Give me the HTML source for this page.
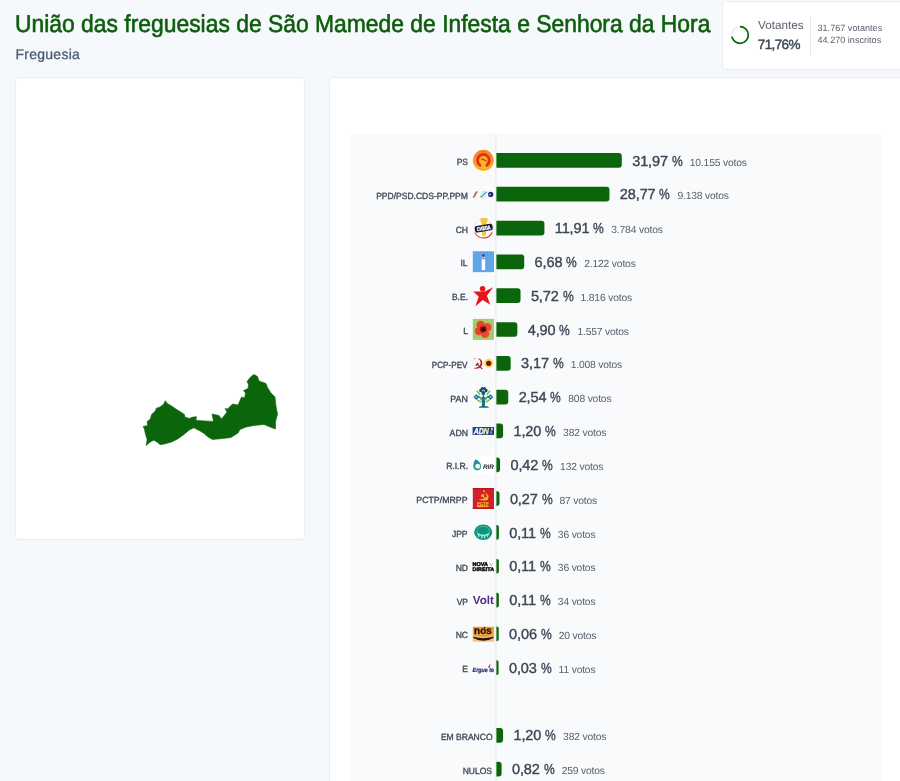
<!DOCTYPE html>
<html><head><meta charset="utf-8"><title>Resultados</title>
<style>
*{margin:0;padding:0;box-sizing:border-box}
html,body{width:900px;height:781px;overflow:hidden;background:#f6f9fc;font-family:"Liberation Sans",sans-serif;text-rendering:geometricPrecision}
body{position:relative}
h1{position:absolute;left:14.500px;top:10.800px;font-size:24.400px;font-weight:normal;color:#0d5d0d;white-space:nowrap;line-height:28px;-webkit-text-stroke:.6px #0d5d0d;transform:scaleX(.9376);transform-origin:0 0}
.sub{position:absolute;left:15.500px;top:44.500px;font-size:14px;color:#4c5a75;line-height:18px;letter-spacing:.26px;-webkit-text-stroke:.3px #4c5a75}
.card{position:absolute;background:#fff;border-radius:3px;box-shadow:0 0 0 1px #e9eef3,0 1px 2px rgba(30,50,90,.05)}
#c1{left:16px;top:78px;width:288px;height:461px}
#c2{left:330px;top:78px;width:600px;height:760px}
#c3{left:723px;top:2px;width:200px;height:67px}
#panel{position:absolute;left:350px;top:133.500px;width:531.500px;height:700px;background:#f9fafc}
#axis{position:absolute;left:495.500px;top:133.500px;width:1px;height:700px;background:#e3e7eb}
.lab{position:absolute;font-size:9px;color:#414957;line-height:16px;white-space:nowrap;transform:scaleX(.947);transform-origin:100% 50%;-webkit-text-stroke:.34px #414957}
.ic{position:absolute;left:472.800px;width:21.200px;height:21.200px;display:block}
.ic svg{display:block;overflow:visible}
.bar{position:absolute;left:496.500px;height:14.700px;background:#0b660b;border-radius:0 3px 3px 0}
.val{position:absolute;white-space:nowrap;line-height:20px;color:#3c4656}
.val b{font-size:14.500px;letter-spacing:-.12px;font-weight:normal;-webkit-text-stroke:.38px #3c4656}
.val s{text-decoration:none;display:inline-block;transform:scaleX(.83);transform-origin:0 50%;margin-right:-2.100px}
.val i{font-style:normal;font-size:10.300px;letter-spacing:-.17px;color:#59616d;margin-left:7.300px}
#map{position:absolute;left:0;top:0}
.vt{position:absolute;left:758px;top:18.800px;font-size:11.700px;color:#59616d;line-height:14px}
.vp{position:absolute;left:757.800px;top:35.500px;font-size:13.500px;color:#3c4656;line-height:18px;letter-spacing:-.62px;-webkit-text-stroke:.45px #3c4656}
.vs{position:absolute;left:817.500px;top:21.900px;font-size:9.100px;color:#59616d;line-height:12.200px;white-space:nowrap}
.vd{position:absolute;left:810px;top:15.500px;width:1px;height:39px;background:#e3e7ec}
#wrap{position:absolute;left:0;top:0;width:900px;height:781px;will-change:transform}
</style></head><body><div id="wrap">
<h1>União das freguesias de São Mamede de Infesta e Senhora da Hora</h1>
<div class="sub">Freguesia</div>
<div class="card" id="c1"></div>
<div class="card" id="c2"></div>
<div class="card" id="c3"></div>
<svg id="ring" style="position:absolute;left:730px;top:24.700px" width="20" height="20" viewBox="0 0 20 20"><circle cx="10" cy="10" r="8.300" fill="none" stroke="#e9edf1" stroke-width="1.500"/><path d="M10 1.700 A8.300 8.300 0 1 1 1.870 11.680" fill="none" stroke="#0b660b" stroke-width="1.700"/></svg>
<div class="vt">Votantes</div><div class="vp">71,76%</div><div class="vd"></div>
<div class="vs">31.767 votantes<br>44.270 inscritos</div>
<svg id="map" width="900" height="781" viewBox="0 0 900 781"><path fill="#0b660b" stroke="#0b660b" stroke-width=".6" stroke-linejoin="round" d="M165.3 400.7 L167.1 403.3 L171.6 406 L176 409.1 L180.4 411.8 L184.4 414.4 L184.9 417.1 L189.3 418.4 L192.9 417.1 L196.4 416.7 L196 420.2 L204 420.9 L213.5 421.4 L212 414 L219 415.5 L221.5 419 L227 412 L225 408.5 L227.5 409 L232.5 404 L238 405 L241.5 397 L244.5 398 L245.5 393 L243.5 390.5 L248 388.5 L248.5 384.5 L247 381.5 L251 376.5 L254 374.5 L257.5 376.5 L259 381 L266 383.5 L267.5 387.5 L271 393 L275 397 L276 406 L277.5 414 L275.5 422 L275.5 429 L270 427 L264 424.5 L254 425.5 L246 427 L240 429.5 L238 433 L231 437.5 L223 438.5 L212.5 439.5 L208 437 L204 433.5 L200 430.9 L193.8 427.8 L189.3 430 L184 434.4 L177.8 438.9 L171.6 442 L165.3 443.8 L160 444.7 L157.8 442.4 L153.8 440.2 L150.2 442 L146.2 445.6 L147.1 439.8 L145.3 433.6 L144.4 429.1 L143.1 426.4 L147.6 425.6 L147.1 421.6 L150.2 419.3 L151.6 414.4 L155.1 411.3 L156.4 408.2 L160 406.9 L163.6 404.2 Z"/></svg>
<svg style="position:absolute;left:0;top:0" width="900" height="781" viewBox="0 0 900 781"><rect x="351" y="133.500" width="530.500" height="660" fill="#f9fafb"/><rect x="495.400" y="133.500" width="1" height="660" fill="#e4e8ec"/><g fill="#0b660b"><path d="M496.4 153.05 H618.79 A3.00 3.00 0 0 1 621.79 156.05 V164.75 A3.00 3.00 0 0 1 618.79 167.75 H496.4 Z"/><path d="M496.4 186.87 H606.44 A3.00 3.00 0 0 1 609.44 189.87 V198.57 A3.00 3.00 0 0 1 606.44 201.57 H496.4 Z"/><path d="M496.4 220.69 H541.40 A3.00 3.00 0 0 1 544.40 223.69 V232.39 A3.00 3.00 0 0 1 541.40 235.39 H496.4 Z"/><path d="M496.4 254.51 H521.22 A3.00 3.00 0 0 1 524.22 257.51 V266.21 A3.00 3.00 0 0 1 521.22 269.21 H496.4 Z"/><path d="M496.4 288.33 H517.52 A3.00 3.00 0 0 1 520.52 291.33 V300.03 A3.00 3.00 0 0 1 517.52 303.03 H496.4 Z"/><path d="M496.4 322.15 H514.35 A3.00 3.00 0 0 1 517.35 325.15 V333.85 A3.00 3.00 0 0 1 514.35 336.85 H496.4 Z"/><path d="M496.4 355.97 H507.68 A3.00 3.00 0 0 1 510.68 358.97 V367.67 A3.00 3.00 0 0 1 507.68 370.67 H496.4 Z"/><path d="M496.4 389.79 H505.25 A3.00 3.00 0 0 1 508.25 392.79 V401.49 A3.00 3.00 0 0 1 505.25 404.49 H496.4 Z"/><path d="M496.4 423.61 H500.08 A3.00 3.00 0 0 1 503.08 426.61 V435.31 A3.00 3.00 0 0 1 500.08 438.31 H496.4 Z"/><path d="M496.4 457.43 H497.13 A2.94 2.94 0 0 1 500.07 460.37 V469.19 A2.94 2.94 0 0 1 497.13 472.13 H496.4 Z"/><path d="M496.4 491.25 H497.02 A2.47 2.47 0 0 1 499.49 493.72 V503.48 A2.47 2.47 0 0 1 497.02 505.95 H496.4 Z"/><path d="M496.4 525.07 H496.89 A1.98 1.98 0 0 1 498.87 527.05 V537.79 A1.98 1.98 0 0 1 496.89 539.77 H496.4 Z"/><path d="M496.4 558.89 H496.89 A1.98 1.98 0 0 1 498.87 560.87 V571.61 A1.98 1.98 0 0 1 496.89 573.59 H496.4 Z"/><path d="M496.4 592.71 H496.89 A1.98 1.98 0 0 1 498.87 594.69 V605.43 A1.98 1.98 0 0 1 496.89 607.41 H496.4 Z"/><path d="M496.4 626.53 H496.86 A1.83 1.83 0 0 1 498.68 628.36 V639.40 A1.83 1.83 0 0 1 496.86 641.23 H496.4 Z"/><path d="M496.4 660.35 H496.83 A1.73 1.73 0 0 1 498.57 662.08 V673.32 A1.73 1.73 0 0 1 496.83 675.05 H496.4 Z"/><path d="M496.4 727.99 H500.08 A3.00 3.00 0 0 1 503.08 730.99 V739.69 A3.00 3.00 0 0 1 500.08 742.69 H496.4 Z"/><path d="M496.4 761.81 H498.61 A3.00 3.00 0 0 1 501.61 764.81 V773.51 A3.00 3.00 0 0 1 498.61 776.51 H496.4 Z"/></g><g transform="translate(472.8 149.80)"><defs><linearGradient id="gps" x1="0" y1="0" x2="0" y2="1"><stop offset="0" stop-color="#f58a2a"/><stop offset=".55" stop-color="#f8ae28"/><stop offset="1" stop-color="#f9c924"/></linearGradient></defs><circle cx="10.6" cy="10.6" r="10.6" fill="url(#gps)"/><circle cx="10.6" cy="10.6" r="9.1" fill="none" stroke="#e2551a" stroke-width="1" stroke-dasharray=".9 1.2" opacity=".9"/><path d="M7.2 15.5 A6 6 0 1 1 14 15.5" fill="none" stroke="#e4300f" stroke-width="3" stroke-linecap="round"/><path d="M7.6 8.4 Q8 6.9 9.6 7 Q10.6 6.4 11.6 7 Q13.2 6.9 13.9 8.6 Q14.4 10.4 13.6 12 Q12.6 13.3 12.6 15 L12.9 19 L8.4 19 L8.7 15 Q8.5 13.5 7.7 12.3 Q7.1 10.2 7.600 8.400Z" fill="#f9b52c"/><path d="M8.6 9.1 Q11 9.6 13.6 11.300" fill="none" stroke="#d8350f" stroke-width="1.1" stroke-linecap="round"/></g><g transform="translate(472.8 183.62)"><path d="M.5 13.9 L2.600 11 L2.200 10.6 L4.4 7.8" stroke="#9a4a3a" stroke-width="1.5" fill="none" opacity=".85"/><path d="M8.6 7.4 L14.6 7.4 L13.2 14.2 L7.2 14.200Z" fill="#d3f0fa"/><path d="M8 13.6 L13.600 8.400" stroke="#2a86ae" stroke-width="1.5" stroke-dasharray="1.5 .7"/><circle cx="17.9" cy="10.8" r="2.6" fill="#1d2878"/><circle cx="17.2" cy="10.9" r="1.1" fill="#8c93d4"/></g><g transform="translate(472.8 217.44)"><circle cx="10.700" cy="11.200" r="9.400" fill="#fff" stroke="#f0c8c2" stroke-width=".6"/><path d="M2.200 15.200 A9.400 9.400 0 0 0 19.400 14.800" fill="none" stroke="#c4472f" stroke-width="1.100"/><path d="M7.400 1 Q11 -.3 15.100 1.100 L14.300 4.500 Q13.200 6 13.600 8 L13.300 13 Q13.600 16 12.600 18.600 L9.700 18.700 Q8.700 16 9.100 13 L8.900 8 Q9.200 5.500 7.900 4z" fill="#f2c83c"/><g transform="rotate(-10 10.900 10.700)"><rect x="2" y="7.400" width="17.900" height="6.600" rx="2.200" fill="#19163a"/><text x="10.900" y="12.700" font-size="5.400" font-weight="bold" fill="#fff" text-anchor="middle" font-family="Liberation Sans" textLength="13.800" lengthAdjust="spacingAndGlyphs" stroke="#fff" stroke-width=".35">CHEGA</text></g></g><g transform="translate(472.8 251.26)"><rect x="0" y="0" width="21.200" height="20.900" fill="#5ea6ea"/><rect x="8.900" y="8" width="3.500" height="10.800" fill="#fff"/><circle cx="10.600" cy="5" r="1.700" fill="#f6dfe6"/><circle cx="10.600" cy="4.400" r="1.400" fill="#5a2436"/></g><g transform="translate(472.8 285.08)"><circle cx="9.800" cy="3.650" r="2.800" fill="#ea1418"/><path d="M7.100 6.300 L.4 6.300 L5.900 11.400 L2.600 21.200 L10 15 L17.400 19.700 L14.100 10.700 L20.300 2.200 L12.100 6.500 Z" fill="#ea1418"/></g><g transform="translate(472.8 318.90)"><rect x="0" y="0" width="21.200" height="21" fill="#a5cb6c"/><circle cx="7.900" cy="6" r="4.200" fill="#e8442e"/><circle cx="14.500" cy="8.300" r="4.200" fill="#ea4a32"/><circle cx="6.200" cy="12.200" r="4.200" fill="#e8402c"/><circle cx="12.200" cy="14.900" r="4.200" fill="#ec4a36"/><circle cx="10.400" cy="10.400" r="3.500" fill="#b81a18"/><path d="M8.300 8 L10.500 8.800 L12.600 7.800 L12.300 10.300 L13 12.200 L10.800 12.100 L9.600 13.800 L9 11.600 L7.300 10.400 L8.800 9.700z" fill="#3d0606"/></g><g transform="translate(472.8 352.72)"><circle cx="5" cy="10.800" r="5.300" fill="none" stroke="#f4d8da" stroke-width=".4"/><path d="M5.200 5.500 Q9.600 6.500 9.500 10.800 Q9.200 14.600 5.800 15.600 Q3 16.300 .4 15.400 Q6 15.200 7.600 11.500 Q8.400 8.200 5.200 5.500Z" fill="#b3202c"/><path d="M2.500 12.300 L4.800 9.700 L6.200 11 L5.400 11.800 L9.900 15.900 L9.200 16.700 L4.700 12.500 L3.900 13.400Z" fill="#b3202c"/><circle cx="1.900" cy="5.900" r=".6" fill="#d0505a"/><circle cx="16" cy="10.600" r="5" fill="#fbe88a" opacity=".7"/><circle cx="16" cy="10.600" r="4.200" fill="#f7dc4a"/><circle cx="15.900" cy="10.600" r="2.600" fill="#760c0c"/></g><g transform="translate(472.8 386.54)"><path d="M9.100 10.400 L12.100 10.400 L12.100 19.500 Q14 19.700 16 20.500 L16 21.100 L6.200 21.100 L6.200 20.500 Q8 19.700 9.100 19.500Z" fill="#146b86"/><path d="M10.600 13 L5.200 9.700 M10.600 13 L16 9.700 M10.600 11 L10.600 6" stroke="#1f7f96" stroke-width="1.500" fill="none"/><path d="M4.400 4.800 L6.900 7.700 M16.800 4.800 L14.300 7.700 M4.800 13.600 L7.800 15.300 M16.400 13.600 L13.400 15.300 M7.300 11.400 L8.600 13.200 M13.900 11.400 L12.600 13.200" stroke="#7cc142" stroke-width="1.600" stroke-linecap="round"/><circle cx="8.100" cy="3.900" r="1.700" fill="#0e4f62"/><circle cx="13.100" cy="3.900" r="1.700" fill="#0e4f62"/><circle cx="9.500" cy="1.900" r="1.500" fill="#0e4f62"/><circle cx="11.700" cy="1.900" r="1.500" fill="#0e4f62"/><ellipse cx="10.600" cy="6" rx="2" ry="2.500" fill="#125a78"/><circle cx="9.800" cy="4.100" r=".65" fill="#bfeef5"/><circle cx="11.500" cy="4.100" r=".65" fill="#bfeef5"/><path d="M3.500 7.600 L6.300 10.500 L3.500 13.400 L.7 10.500Z M17.700 7.600 L20.500 10.500 L17.700 13.400 L14.900 10.500Z" fill="#1a6a8c"/><circle cx="3.400" cy="10.500" r="1" fill="#7fd0e6"/><circle cx="17.800" cy="10.500" r="1" fill="#7fd0e6"/></g><g transform="translate(472.8 420.36)"><rect x="-.2" y="6.700" width="21.400" height="7.900" fill="#1e3c84"/><text x=".9" y="13.800" font-size="8.600" font-weight="bold" font-style="italic" fill="#fff" stroke="#fff" stroke-width=".3" font-family="Liberation Sans" textLength="10.200" lengthAdjust="spacingAndGlyphs">AD</text><text x="10.800" y="13.800" font-size="8.600" font-weight="bold" font-style="italic" fill="#f2f2a0" stroke="#f2f2a0" stroke-width=".3" font-family="Liberation Sans" textLength="5.300" lengthAdjust="spacingAndGlyphs">N</text><rect x="18.300" y="7.500" width="1.500" height="2.600" fill="#e6ecff"/><rect x="17.600" y="10.900" width="1.500" height="2.700" fill="#6f9ae0"/></g><g transform="translate(472.8 454.18)"><rect x="-.5" y="1" width="22" height="19" fill="#fff"/><path d="M2.500 5 Q7.900 7.400 8.400 11.800 Q8.300 16 4.400 16 Q.5 15.800 .4 11.500 Q.5 8 2.500 5Z" fill="#1f909a"/><circle cx="4.900" cy="12.100" r="2.500" fill="#e4fafa"/><text x="10.100" y="14.700" font-size="6.600" font-weight="bold" font-style="italic" fill="#2a2a2a" font-family="Liberation Sans" textLength="11" lengthAdjust="spacingAndGlyphs">RIR</text></g><g transform="translate(472.8 488.00)"><rect x="0" y="0" width="21.200" height="21" fill="#d0202c"/><rect x="0" y="0" width="21.200" height="1.300" fill="#b8141e"/><rect x="0" y="19.700" width="21.200" height="1.300" fill="#b8141e"/><circle cx="11.200" cy="2.900" r="1" fill="#f5a82a"/><path d="M11.200 4.400 Q15.900 5.600 15.800 9.500 Q15.300 12.500 12.200 12.600 Q8.500 12.800 5.400 11.300 Q11 11.700 13.600 9.200 Q14.800 7 11.200 4.400Z" fill="#f5b52a"/><path d="M7.900 7.200 L10.600 5.800 L11.700 7.400 L10.600 8 L14.500 11.400 L13.600 12.400 L9.700 8.700 L8.800 9.200Z" fill="#f5b52a"/><text x="4.200" y="16.900" font-size="4.200" font-weight="bold" fill="#f2a02a" font-family="Liberation Sans" textLength="11.600" lengthAdjust="spacingAndGlyphs" stroke="#f2a02a" stroke-width=".3">PCTP</text><text x="4.200" y="19.300" font-size="2.400" font-weight="bold" fill="#f5b52a" font-family="Liberation Sans" textLength="11.600" lengthAdjust="spacingAndGlyphs" stroke="#f5b52a" stroke-width=".25">MRPP</text></g><g transform="translate(472.8 521.82)"><ellipse cx="10.400" cy="10.450" rx="9" ry="7.700" fill="#15907a"/><ellipse cx="10.400" cy="9.300" rx="6.300" ry="4.700" fill="none" stroke="#86ecdc" stroke-width="1" stroke-dasharray="1.100 .9" opacity=".8"/><ellipse cx="10.400" cy="9.400" rx="5.400" ry="3.900" fill="#10917e"/><path d="M4.300 10.600 Q10.400 15.400 16.500 10.600 L16.300 12.300 Q10.400 16.400 4.500 12.300Z" fill="#9af4e6"/><path d="M5.600 12.600 L6.100 14.600 M8.900 13.800 L9.100 16.100 M11.900 13.800 L11.700 16.100 M15.200 12.600 L14.700 14.600" stroke="#9af4e6" stroke-width="1.300" stroke-linecap="round"/></g><g transform="translate(472.8 555.64)"><rect x="-1.300" y="4.500" width="23.400" height="12.500" fill="#fff"/><text x="-.2" y="10.250" font-size="5.400" font-weight="bold" fill="#0a0a0a" font-family="Liberation Sans" textLength="15.400" lengthAdjust="spacingAndGlyphs" stroke="#0a0a0a" stroke-width=".45">NOVA</text><path d="M16.800 7.600 L18.300 10.200 L19.800 7.600" stroke="#9a9a9a" stroke-width=".7" fill="none"/><text x="-.2" y="15.050" font-size="5.200" font-weight="bold" fill="#0a0a0a" font-family="Liberation Sans" textLength="21.500" lengthAdjust="spacingAndGlyphs" stroke="#0a0a0a" stroke-width=".45">DIREITA</text></g><g transform="translate(472.8 589.46)"><text x="0" y="14.850" font-size="11.550" font-weight="bold" fill="#502f88" font-family="Liberation Sans" textLength="21.200" lengthAdjust="spacingAndGlyphs">Volt</text></g><g transform="translate(472.8 623.28)"><defs><linearGradient id="gnc" x1="0" y1="0" x2="0" y2="1"><stop offset="0" stop-color="#ee9a32"/><stop offset=".55" stop-color="#f2a848"/><stop offset="1" stop-color="#f7c888"/></linearGradient></defs><rect x="0" y="3.500" width="21.200" height="15" fill="url(#gnc)"/><text x="1.300" y="10.300" font-size="10.400" font-weight="bold" fill="#2a1206" stroke="#2a1206" stroke-width=".35" font-family="Liberation Sans" textLength="17.600" lengthAdjust="spacingAndGlyphs">nos</text><circle cx="11.800" cy="4.200" r=".8" fill="#2a1206"/><rect x="6" y="12.100" width="9.500" height=".7" fill="#d07f1c" opacity=".8"/><path d="M.4 13.500 Q10.600 16.200 20.700 13.500 L20.700 14.400 Q10.600 20.700 .4 14.400Z" fill="#2a1206"/></g><g transform="translate(472.8 657.10)"><text x="-.2" y="14.700" font-size="6.200" font-weight="bold" font-style="italic" fill="#1f2a70" stroke="#1f2a70" stroke-width=".2" font-family="Liberation Sans" textLength="21.500" lengthAdjust="spacingAndGlyphs">Ergue te</text><path d="M15 10.400 L17.900 6.100 L16.800 10.700Z" fill="#d0182a"/></g></svg>
<div class="lab" style="top:154.00px;right:432px">PS</div><div class="val" style="top:151.50px;left:632.19px"><b>31,97 <s>%</s></b><i>10.155 votos</i></div>
<div class="lab" style="top:187.82px;right:432px">PPD/PSD.CDS-PP.PPM</div><div class="val" style="top:185.32px;left:619.84px"><b>28,77 <s>%</s></b><i>9.138 votos</i></div>
<div class="lab" style="top:221.64px;right:432px">CH</div><div class="val" style="top:219.14px;left:554.80px"><b>11,91 <s>%</s></b><i>3.784 votos</i></div>
<div class="lab" style="top:255.46px;right:432px">IL</div><div class="val" style="top:252.96px;left:534.62px"><b>6,68 <s>%</s></b><i>2.122 votos</i></div>
<div class="lab" style="top:289.28px;right:432px">B.E.</div><div class="val" style="top:286.78px;left:530.92px"><b>5,72 <s>%</s></b><i>1.816 votos</i></div>
<div class="lab" style="top:323.10px;right:432px">L</div><div class="val" style="top:320.60px;left:527.75px"><b>4,90 <s>%</s></b><i>1.557 votos</i></div>
<div class="lab" style="top:356.92px;right:432px;transform:scaleX(.905)">PCP-PEV</div><div class="val" style="top:354.42px;left:521.08px"><b>3,17 <s>%</s></b><i>1.008 votos</i></div>
<div class="lab" style="top:390.74px;right:432px;transform:scaleX(.98)">PAN</div><div class="val" style="top:388.24px;left:518.65px"><b>2,54 <s>%</s></b><i>808 votos</i></div>
<div class="lab" style="top:424.56px;right:432px;transform:scaleX(.97)">ADN</div><div class="val" style="top:422.06px;left:513.48px"><b>1,20 <s>%</s></b><i>382 votos</i></div>
<div class="lab" style="top:458.38px;right:432px">R.I.R.</div><div class="val" style="top:455.88px;left:510.47px"><b>0,42 <s>%</s></b><i>132 votos</i></div>
<div class="lab" style="top:492.20px;right:432px;transform:scaleX(.975)">PCTP/MRPP</div><div class="val" style="top:489.70px;left:509.89px"><b>0,27 <s>%</s></b><i>87 votos</i></div>
<div class="lab" style="top:526.02px;right:432px">JPP</div><div class="val" style="top:523.52px;left:509.27px"><b>0,11 <s>%</s></b><i>36 votos</i></div>
<div class="lab" style="top:559.84px;right:432px">ND</div><div class="val" style="top:557.34px;left:509.27px"><b>0,11 <s>%</s></b><i>36 votos</i></div>
<div class="lab" style="top:593.66px;right:432px">VP</div><div class="val" style="top:591.16px;left:509.27px"><b>0,11 <s>%</s></b><i>34 votos</i></div>
<div class="lab" style="top:627.48px;right:432px">NC</div><div class="val" style="top:624.98px;left:509.08px"><b>0,06 <s>%</s></b><i>20 votos</i></div>
<div class="lab" style="top:661.30px;right:432px">E</div><div class="val" style="top:658.80px;left:508.97px"><b>0,03 <s>%</s></b><i>11 votos</i></div>
<div class="lab" style="top:728.94px;right:407.5px">EM BRANCO</div><div class="val" style="top:726.44px;left:513.48px"><b>1,20 <s>%</s></b><i>382 votos</i></div>
<div class="lab" style="top:762.76px;right:407.5px">NULOS</div><div class="val" style="top:760.26px;left:512.01px"><b>0,82 <s>%</s></b><i>259 votos</i></div>
</div></body></html>
